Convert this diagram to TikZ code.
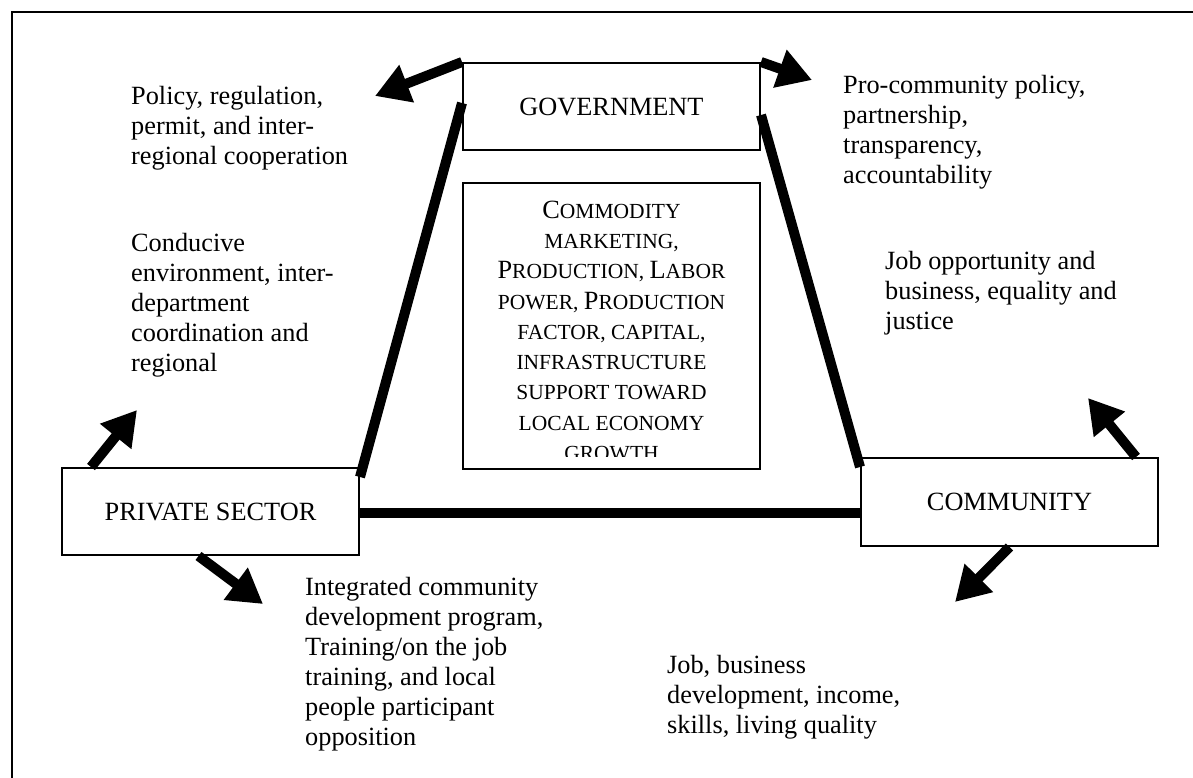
\documentclass[tikz,border=0pt]{standalone}
\usepackage{fontspec}
\setmainfont{Liberation Serif}
\usetikzlibrary{arrows.meta,calc}
\newcommand\capL[1]{{\fontsize{26.3}{30.3}\selectfont #1}}
\begin{document}
\begin{tikzpicture}[x=1pt,y=-1pt,
  box/.style={draw,line width=2pt,inner sep=0pt,minimum width=297pt,font=\fontsize{26.3}{30}\selectfont},
  lbl/.style={anchor=north west,align=left,inner sep=0pt,font=\fontsize{26.3}{30}\selectfont},
  bar/.style={line width=10pt},
  arr/.style={line width=10pt,-{Triangle[length=34pt,width=38pt]}},
  frame/.style={line width=2.5pt}]
\useasboundingbox (0,0) rectangle (1193,778);
\draw[frame] (12,778) -- (12,12) -- (1193,12);

\node[box,minimum height=87pt] (gov) at (611.5,106.5) {GOVERNMENT};
\node[box,minimum height=286pt] (ctr) at (611.5,326) {};
\node[box,minimum height=87pt] (priv) at (210.5,511.5) {PRIVATE SECTOR};
\node[box,minimum height=88pt] (comm) at (1009.5,502) {COMMUNITY};

\begin{scope}
\clip (ctr.north west) rectangle ([yshift=14pt]ctr.south east);
\node[anchor=north,align=center,inner sep=0pt,font=\fontsize{21.5}{30.3}\selectfont] (ctrtext) at (611.5,200.5)
{\capL{C}OMMODITY\\ MARKETING,\\ \capL{P}RODUCTION, \capL{L}ABOR\\ POWER, \capL{P}RODUCTION\\ FACTOR, CAPITAL,\\ INFRASTRUCTURE\\ SUPPORT TOWARD\\ LOCAL ECONOMY\\ GROWTH};
\end{scope}

\draw[bar] ([yshift=3.5pt]gov.west) -- ([yshift=-10pt]priv.north east);
\draw[bar] ([yshift=-8.5pt]gov.east) -- ([yshift=-10pt]comm.north west);
\draw[bar] ([yshift=-1.5pt]priv.east) -- ([yshift=-1.5pt]priv.east -| comm.west);

\coordinate (t1) at (375,96);
\coordinate (t2) at (812,80);
\coordinate (t3) at (137,410);
\coordinate (t4) at (263,604);
\coordinate (t5) at (1088,398);
\coordinate (t6) at (955,602);
\draw[arr] (gov.north west) -- (t1);
\draw[arr] (gov.north east) -- (t2);
\draw[arr] ([xshift=30pt]priv.north west) -- (t3);
\draw[arr] ([xshift=-12pt]priv.south) -- (t4);
\draw[arr] ([xshift=-23pt]comm.north east) -- (t5);
\draw[arr] (comm.south) -- (t6);

\node[lbl] (policy) at (131,86) {Policy, regulation,\\ permit, and inter-\\ regional cooperation};
\node[lbl] (procomm) at (843,75) {Pro-community policy,\\ partnership,\\ transparency,\\ accountability};
\node[lbl] (conducive) at (131,233) {Conducive\\ environment, inter-\\ department\\ coordination and\\ regional};
\node[lbl] (jobopp) at (885,251.5) {Job opportunity and\\ business, equality and\\ justice};
\node[lbl] (integ) at (305,577.5) {Integrated community\\ development program,\\ Training/on the job\\ training, and local\\ people participant\\ opposition};
\node[lbl] (jobbus) at (667,655) {Job, business\\ development, income,\\ skills, living quality};
\end{tikzpicture}
\end{document}
